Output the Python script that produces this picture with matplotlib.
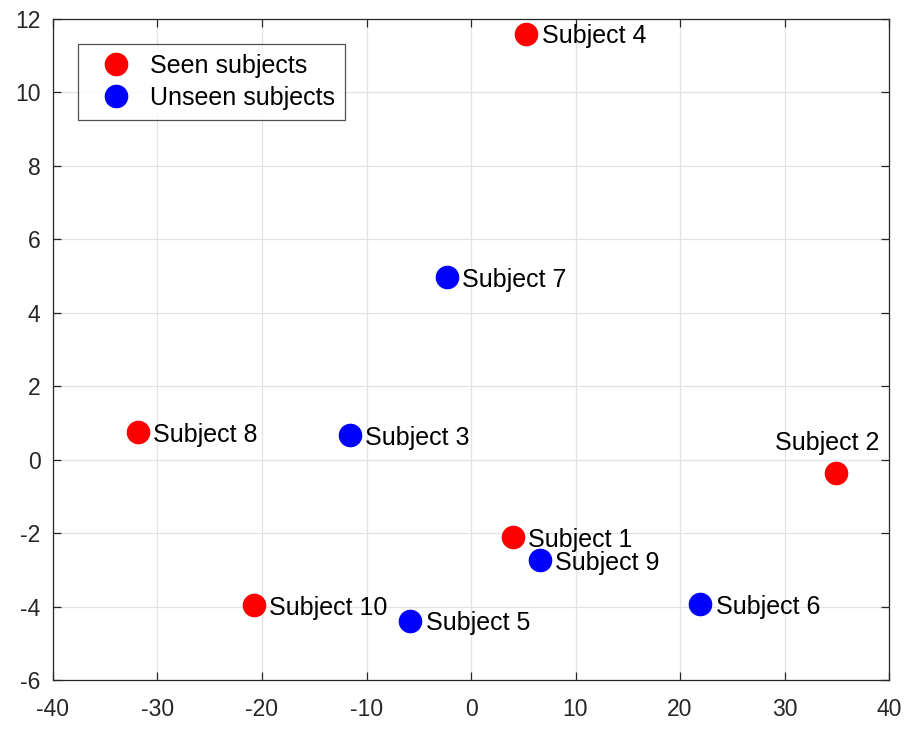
import matplotlib
matplotlib.use("Agg")
import matplotlib.pyplot as plt
import numpy as np

plt.rcParams['font.family'] = ['Liberation Sans', 'DejaVu Sans']
plt.rcParams['axes.unicode_minus'] = False

# seen subjects (red)
seen_names = ['Subject 1', 'Subject 2', 'Subject 4', 'Subject 8', 'Subject 10']
seen_x = [4.0, 34.9, 5.3, -31.9, -20.8]
seen_y = [-2.11, -0.37, 11.6, 0.75, -3.97]

# unseen subjects (blue)
unseen_names = ['Subject 3', 'Subject 5', 'Subject 6', 'Subject 7', 'Subject 9']
unseen_x = [-11.6, -5.8, 21.95, -2.3, 6.6]
unseen_y = [0.67, -4.38, -3.94, 4.97, -2.74]

fig = plt.figure(figsize=(9.18, 7.34), dpi=100)
ax = fig.add_axes([53 / 918, 1 - 680 / 734, 836 / 918, 661 / 734])

ax.plot(seen_x, seen_y, 'o', color='#ff0000', markersize=16, label='Seen subjects', zorder=3)
ax.plot(unseen_x, unseen_y, 'o', color='#0000ff', markersize=16, label='Unseen subjects', zorder=3)

for name, x, y in zip(seen_names + unseen_names, seen_x + unseen_x, seen_y + unseen_y):
    if name == 'Subject 2':
        ax.annotate(name, (x, y), xytext=(-6, 13), textcoords='offset points',
                    ha='center', va='bottom', fontsize=18)
    else:
        ax.annotate(name, (x, y), xytext=(11, -2), textcoords='offset points',
                    ha='left', va='center', fontsize=18)

ax.set_xlim(-40, 40)
ax.set_ylim(-6, 12)
ax.set_xticks(np.arange(-40, 41, 10))
ax.set_yticks(np.arange(-6, 13, 2))
ax.grid(True, color='#e3e3e3', linewidth=0.9)
ax.set_axisbelow(True)
ax.tick_params(direction='in', top=True, right=True, labelsize=16.5, length=6,
               colors='#262626', width=0.9)
ax.tick_params(axis='x', pad=13)
ax.tick_params(axis='y', pad=9)
for sp in ax.spines.values():
    sp.set_color('#262626')
    sp.set_linewidth(0.9)

leg = ax.legend(loc='upper left', bbox_to_anchor=(0.030, 0.962), fontsize=18, frameon=True,
                fancybox=False, edgecolor='#262626', handletextpad=0.28, borderpad=0.4,
                labelspacing=0.32, handlelength=2.2, borderaxespad=0)
leg.get_frame().set_linewidth(0.9)

fig.savefig('out.png', dpi=100)
